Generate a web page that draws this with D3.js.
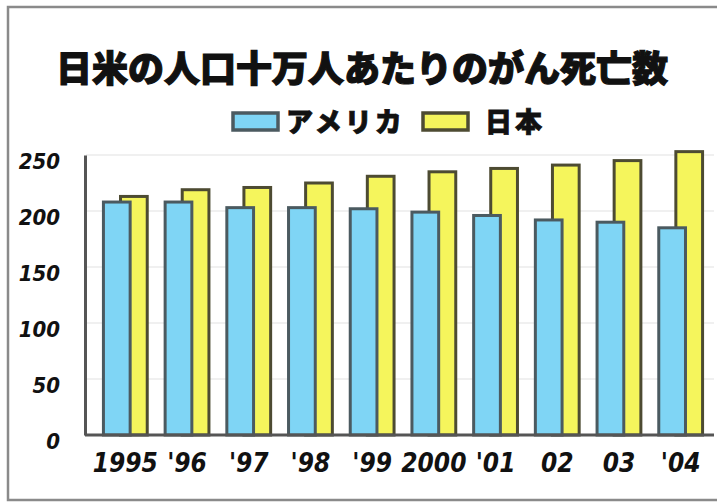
<!DOCTYPE html>
<html>
<head>
<meta charset="utf-8">
<script src="https://cdn.jsdelivr.net/npm/d3@7"></script>
<style>
  body { margin: 0; background: #fff; }
  svg { display: block; }
</style>
</head>
<body>
<svg id="chart"></svg>
<script>
// chart data
var years = ["1995", "'96", "'97", "'98", "'99", "2000", "'01", "02", "03", "'04"];
var usaValues = [208, 208, 203, 203, 202, 199, 196, 192, 190, 185];
var japanValues = [213, 219, 221, 225, 231, 235, 238, 241, 245, 253];
var yTicks = [0, 50, 100, 150, 200, 250];
var seriesNames = ["アメリカ", "日本"];
var seriesColors = ["#7fd5f5", "#f5f55c"];
var seriesStroke = ["#4b5a60", "#4d4b32"];

var svgWidth = 717;
var svgHeight = 502;

var svg = d3.select("#chart")
  .attr("width", svgWidth)
  .attr("height", svgHeight);

// outer frame (no right edge)
svg.append("path")
  .attr("d", "M717,7 H8 V500 H717")
  .attr("fill", "none")
  .attr("stroke", "#8a8a8a")
  .attr("stroke-width", 2.5);

// title
svg.append("text")
  .attr("x", 362)
  .attr("y", 82)
  .attr("text-anchor", "middle")
  .style("font-family", "'Noto Sans CJK JP', sans-serif")
  .style("font-weight", 900)
  .style("font-size", "36px")
  .attr("fill", "#111")
  .attr("stroke", "#111")
  .attr("stroke-width", 1.2)
  .text("日米の人口十万人あたりのがん死亡数");

// scales
var xScale = d3.scaleBand()
  .domain(years)
  .range([88, 718])
  .paddingInner(0.29)
  .paddingOuter(0.25);

var yScale = d3.scaleLinear()
  .domain([0, 250])
  .range([435, 155]);

var bw = xScale.bandwidth();
var barW = bw * 0.61;

var chart = svg.append("g");

// gridlines
chart.selectAll(".grid")
  .data(yTicks.filter(function (d) { return d > 0; }))
  .enter()
  .append("line")
  .attr("class", "grid")
  .attr("x1", 86)
  .attr("x2", 714)
  .attr("y1", function (d) { return yScale(d); })
  .attr("y2", function (d) { return yScale(d); })
  .attr("stroke", "#f0f0f0")
  .attr("stroke-width", 2);

// japan bars (behind)
chart.selectAll(".bar-jp")
  .data(japanValues)
  .enter()
  .append("rect")
  .attr("class", "bar-jp")
  .attr("x", function (d, i) { return xScale(years[i]) + bw - barW; })
  .attr("y", function (d) { return yScale(d); })
  .attr("width", barW)
  .attr("height", function (d) { return yScale(0) - yScale(d); })
  .attr("fill", seriesColors[1])
  .attr("stroke", seriesStroke[1])
  .attr("stroke-width", 3);

// usa bars (front)
chart.selectAll(".bar-us")
  .data(usaValues)
  .enter()
  .append("rect")
  .attr("class", "bar-us")
  .attr("x", function (d, i) { return xScale(years[i]); })
  .attr("y", function (d) { return yScale(d); })
  .attr("width", barW)
  .attr("height", function (d) { return yScale(0) - yScale(d); })
  .attr("fill", seriesColors[0])
  .attr("stroke", seriesStroke[0])
  .attr("stroke-width", 3);

// y axis
var yAxis = chart.append("g")
  .attr("transform", "translate(85,0)")
  .call(d3.axisLeft(yScale).tickValues(yTicks).tickSize(0).tickPadding(25));
yAxis.select(".domain").attr("stroke", "#555").attr("stroke-width", 3);
yAxis.selectAll("text")
  .attr("dy", "0.6em")
  .style("font-family", "'DejaVu Sans Condensed', 'Liberation Sans Narrow', sans-serif")
  .style("font-weight", "bold")
  .style("font-style", "italic")
  .style("font-size", "22px")
  .attr("fill", "#111");

// x axis
var xAxis = chart.append("g")
  .attr("transform", "translate(0,435)")
  .call(d3.axisBottom(xScale).tickSize(0).tickPadding(19));
xAxis.select(".domain")
  .attr("d", "M85,0H714")
  .attr("stroke", "#555")
  .attr("stroke-width", 3);
xAxis.selectAll("text")
  .style("font-family", "'DejaVu Sans Condensed', 'Liberation Sans Narrow', sans-serif")
  .style("font-weight", "bold")
  .style("font-style", "italic")
  .style("font-size", "26px")
  .attr("fill", "#111");

// legend
var legendX = [233, 423];
var legendTextX = [53, 62];
var legend = svg.selectAll(".legend")
  .data(seriesNames)
  .enter()
  .append("g")
  .attr("class", "legend")
  .attr("transform", function (d, i) { return "translate(" + legendX[i] + ",113)"; });

legend.append("rect")
  .attr("width", 45)
  .attr("height", 17)
  .attr("fill", function (d, i) { return seriesColors[i]; })
  .attr("stroke", function (d, i) { return seriesStroke[i]; })
  .attr("stroke-width", 3.5);

legend.append("text")
  .attr("x", function (d, i) { return legendTextX[i]; })
  .attr("y", 19)
  .style("font-family", "'Noto Sans CJK JP', sans-serif")
  .style("font-weight", 900)
  .style("font-size", "27px")
  .style("letter-spacing", "3px")
  .attr("fill", "#111")
  .attr("stroke", "#111")
  .attr("stroke-width", 0.8)
  .text(function (d) { return d; });
</script>
</body>
</html>
